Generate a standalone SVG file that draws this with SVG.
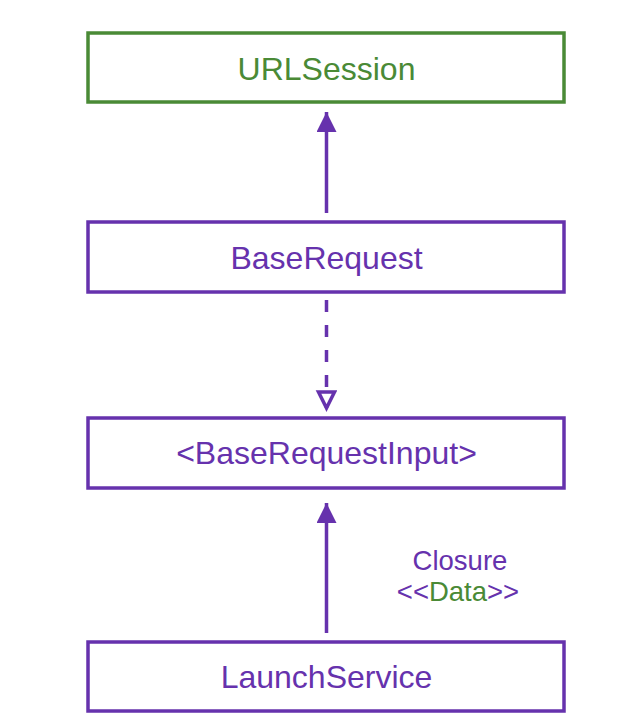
<svg xmlns="http://www.w3.org/2000/svg" width="628" height="720" viewBox="0 0 628 720">
<defs>
<style>
.box{fill:#fff;stroke-width:3.5}
.p{stroke:#6632ad}
.g{stroke:#4a8a36}
.t{font-family:"Liberation Sans",Arial,sans-serif;font-size:32px;text-anchor:middle}
.lbl{font-family:"Liberation Sans",Arial,sans-serif;font-size:27.5px;text-anchor:middle}
.pt{fill:#6632ad}
.gt{fill:#4a8a36}
.conn{stroke:#6632ad;stroke-width:3.5;fill:none}
</style>
<marker id="solid" markerUnits="userSpaceOnUse" markerWidth="22" markerHeight="22" refX="20" refY="10" orient="auto">
<path d="M0,0 L20,10 L0,20 Z" fill="#6632ad"/>
</marker>
<marker id="open" markerUnits="userSpaceOnUse" markerWidth="24" markerHeight="24" refX="18" refY="10" orient="auto">
<path d="M2,2 L18,10 L2,18 Z" fill="#fff" stroke="#6632ad" stroke-width="3.5"/>
</marker>
</defs>
<rect width="628" height="720" fill="#fff"/>
<g id="connectors">
<line class="conn" x1="326.5" y1="213" x2="326.5" y2="112" marker-end="url(#solid)"/>
<line class="conn" x1="326.5" y1="300" x2="326.5" y2="408" stroke-dasharray="12,13" marker-end="url(#open)"/>
<line class="conn" x1="326.5" y1="633" x2="326.5" y2="503" marker-end="url(#solid)"/>
<g id="label-closure">
<text class="lbl pt" x="460" y="570">Closure</text>
<text class="lbl" x="458" y="601"><tspan class="pt">&lt;&lt;</tspan><tspan class="gt">Data</tspan><tspan class="pt">&gt;&gt;</tspan></text>
</g>
</g>
<g id="URLSession">
<rect class="box g" x="88" y="33" width="476" height="69"/>
<text class="t gt" x="326.5" y="80">URLSession</text>
</g>
<g id="BaseRequest">
<rect class="box p" x="88" y="222" width="476" height="70"/>
<text class="t pt" x="326.5" y="269">BaseRequest</text>
</g>
<g id="BaseRequestInput">
<rect class="box p" x="88" y="418" width="476" height="70"/>
<text class="t pt" x="326.5" y="464">&lt;BaseRequestInput&gt;</text>
</g>
<g id="LaunchService">
<rect class="box p" x="88" y="642" width="476" height="69"/>
<text class="t pt" x="326.5" y="688">LaunchService</text>
</g>
</svg>
